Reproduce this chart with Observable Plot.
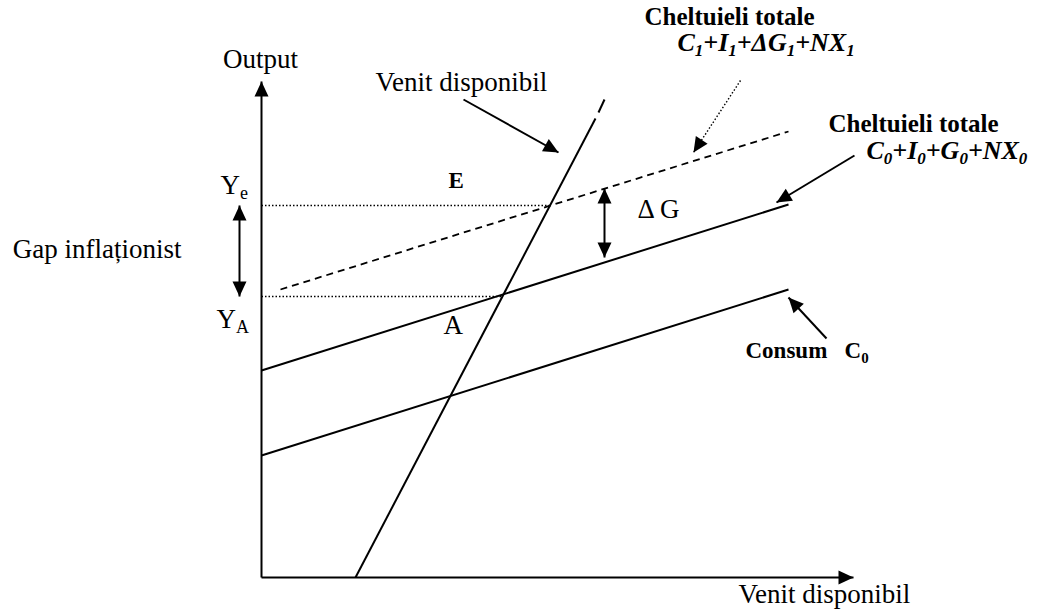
<!DOCTYPE html>
<html>
<head>
<meta charset="utf-8">
<script src="https://cdn.jsdelivr.net/npm/d3@7"></script>
<script src="https://cdn.jsdelivr.net/npm/@observablehq/plot@0.6"></script>
<style>
  html, body { margin: 0; padding: 0; background: #fff; }
  #chart svg { display: block; }
</style>
</head>
<body>
<div id="chart"></div>
<script>
// Diagram coordinates: x = venit disponibil, y = output (origin at the axes' corner)
const axes = [
  {name: "Venit disponibil", x1: 0, y1: 0, x2: 592, y2: 0},
  {name: "Output", x1: 0, y1: 0, x2: 0, y2: 496}
];
const solidLines = [
  {name: "Venit disponibil", x1: 94, y1: 0, x2: 334, y2: 459},
  {name: "Venit disponibil (cont.)", x1: 337, y1: 465, x2: 343, y2: 478},
  {name: "C0+I0+G0+NX0", x1: 0, y1: 207, x2: 527, y2: 373},
  {name: "Consum C0", x1: 0, y1: 122, x2: 527, y2: 288}
];
const dashedLines = [
  {name: "C1+I1+ΔG1+NX1", x1: 19, y1: 288, x2: 527, y2: 446}
];
const levels = [
  {name: "Ye", y: 372, xEnd: 288},
  {name: "YA", y: 281, xEnd: 240}
];
const doubleArrows = [
  {name: "Gap inflaționist", x1: -22, y1: 281, x2: -22, y2: 372},
  {name: "ΔG", x1: 343, y1: 320, x2: 343, y2: 389}
];
const pointers = [
  {name: "Venit disponibil", x1: 202, y1: 478, x2: 297, y2: 425, dotted: false},
  {name: "Cheltuieli totale 0", x1: 593, y1: 422, x2: 515, y2: 375, dotted: false},
  {name: "Consum C0", x1: 565, y1: 239, x2: 527, y2: 280, dotted: false},
  {name: "Cheltuieli totale 1", x1: 479, y1: 497, x2: 432, y2: 425, dotted: true}
];

// Labels (text uses "_x" for a subscript)
const labelsRegular = [
  {text: "Output", x: -1, y: 510, anchor: "middle"},
  {text: "Venit disponibil", x: 114, y: 487, anchor: "start"},
  {text: "Y_e", x: -41, y: 384, anchor: "start"},
  {text: "Gap inflaționist", x: -80, y: 320, anchor: "end"},
  {text: "Y_A", x: -45, y: 250, anchor: "start"},
  {text: "A", x: 182, y: 244, anchor: "start"},
  {text: "Δ G", x: 376, y: 360, anchor: "start"},
  {text: "Venit disponibil", x: 477, y: -25, anchor: "start"}
];
const labelsTitle = [
  {text: "Cheltuieli totale", x: 383, y: 553, anchor: "start"},
  {text: "Cheltuieli totale", x: 567, y: 446, anchor: "start"}
];
const labelsBold = [
  {text: "E", x: 187, y: 390, anchor: "start"},
  {text: "Consum\u00a0\u00a0\u00a0C_0", x: 484, y: 220, anchor: "start"}
];
const labelsFormula = [
  {text: "C_1+I_1+ΔG_1+NX_1", x: 416, y: 527, anchor: "start"},
  {text: "C_0+I_0+G_0+NX_0", x: 605, y: 419, anchor: "start"}
];

// Arrow heads derived from the arrow segments
const deg = (dx, dy) => Math.atan2(dx, dy) * 180 / Math.PI;
const heads = [];
for (const a of axes) heads.push({x: a.x2, y: a.y2, r: deg(a.x2 - a.x1, a.y2 - a.y1)});
for (const a of pointers) heads.push({x: a.x2, y: a.y2, r: deg(a.x2 - a.x1, a.y2 - a.y1)});
for (const a of doubleArrows) {
  heads.push({x: a.x2, y: a.y2, r: deg(a.x2 - a.x1, a.y2 - a.y1)});
  heads.push({x: a.x1, y: a.y1, r: deg(a.x1 - a.x2, a.y1 - a.y2)});
}
const arrowHead = {
  draw(ctx) { const L = 15, w = 7; ctx.moveTo(0, 0); ctx.lineTo(-w, L); ctx.lineTo(w, L); ctx.closePath(); }
};

const serif = "'Liberation Serif', 'Times New Roman', serif";
function texts(data, extra) {
  return ["start", "middle", "end"].map((a) =>
    Plot.text(data.filter((d) => d.anchor === a), {
      x: "x", y: "y", text: "text", textAnchor: a, lineAnchor: "bottom",
      fontFamily: serif, fill: "black", ...extra
    })
  );
}

const chart = Plot.plot({
  width: 1042,
  height: 613,
  marginTop: 0, marginRight: 0, marginBottom: 0, marginLeft: 0,
  x: {axis: null, domain: [-261, 781]},
  y: {axis: null, domain: [-36, 577]},
  style: {background: "white"},
  marks: [
    Plot.link(axes, {x1: "x1", y1: "y1", x2: "x2", y2: "y2", stroke: "black", strokeWidth: 2}),
    Plot.link(levels, {x1: 0, y1: "y", x2: "xEnd", y2: "y", stroke: "black", strokeWidth: 1.3, strokeDasharray: "1.5,2"}),
    Plot.link(solidLines, {x1: "x1", y1: "y1", x2: "x2", y2: "y2", stroke: "black", strokeWidth: 2}),
    Plot.link(dashedLines, {x1: "x1", y1: "y1", x2: "x2", y2: "y2", stroke: "black", strokeWidth: 1.8, strokeDasharray: "7,5"}),
    Plot.link(doubleArrows, {x1: "x1", y1: "y1", x2: "x2", y2: "y2", stroke: "black", strokeWidth: 2}),
    Plot.link(pointers.filter(d => !d.dotted), {x1: "x1", y1: "y1", x2: "x2", y2: "y2", stroke: "black", strokeWidth: 2}),
    Plot.link(pointers.filter(d => d.dotted), {x1: "x1", y1: "y1", x2: "x2", y2: "y2", stroke: "black", strokeWidth: 1.4, strokeDasharray: "1.5,2"}),
    Plot.dot(heads, {x: "x", y: "y", rotate: "r", symbol: arrowHead, fill: "black", stroke: "none", r: 5}),
    ...texts(labelsRegular, {fontSize: 27}),
    ...texts(labelsTitle, {fontSize: 25, fontWeight: "bold"}),
    ...texts(labelsBold, {fontSize: 23, fontWeight: "bold"}),
    ...texts(labelsFormula, {fontSize: 26, fontWeight: "bold", fontStyle: "italic"})
  ]
});

// turn "_x" into subscripts
const NS = "http://www.w3.org/2000/svg";
chart.querySelectorAll("text").forEach((t) => {
  const s = t.textContent;
  if (!s.includes("_")) return;
  const fs = parseFloat(t.getAttribute("font-size") || t.parentNode.getAttribute("font-size") || 24);
  t.textContent = "";
  let shifted = false;
  for (const p of s.split(/(_.)/)) {
    if (!p) continue;
    const ts = document.createElementNS(NS, "tspan");
    if (p[0] === "_") {
      ts.textContent = p.slice(1);
      ts.setAttribute("font-size", Math.round(fs * 0.66));
      ts.setAttribute("dy", Math.round(fs * 0.2));
      shifted = true;
    } else {
      ts.textContent = p;
      if (shifted) ts.setAttribute("dy", -Math.round(fs * 0.2));
      shifted = false;
    }
    t.appendChild(ts);
  }
});

document.getElementById("chart").appendChild(chart);
</script>
</body>
</html>
